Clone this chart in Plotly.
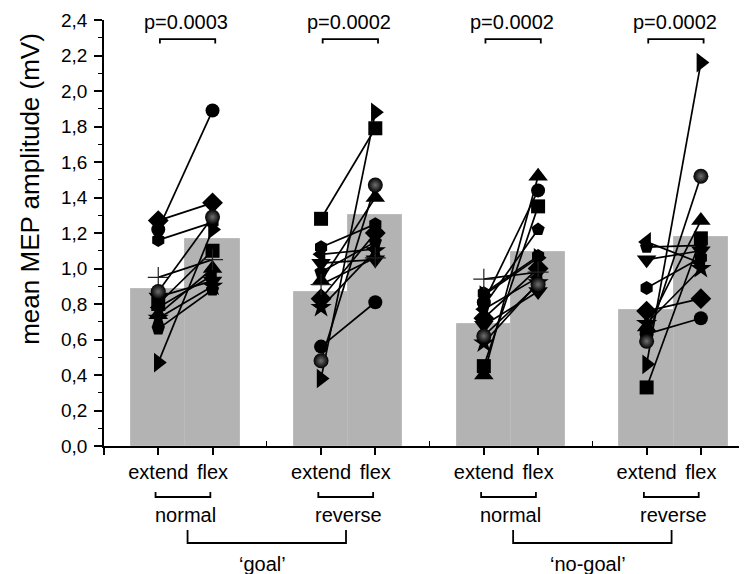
import plotly.graph_objs as go

# subjects: one marker symbol each, same symbol in every condition
symbols = ['square', 'circle', 'triangle-up', 'triangle-down', 'diamond', 'triangle-left',
           'triangle-right', 'hexagon', 'pentagon', 'star', 'cross-thin', 'sphere']

conditions = ['goal normal', 'goal reverse', 'no-goal normal', 'no-goal reverse']
movements = ['extend', 'flex']
sub_labels = ['normal', 'reverse', 'normal', 'reverse']
group_labels = ['\u2018goal\u2019', '\u2018no-goal\u2019']
p_values = ['p=0.0003', 'p=0.0002', 'p=0.0002', 'p=0.0002']

# bar heights (group means)
mean_extend = [0.885, 0.868, 0.687, 0.768]
mean_flex = [1.167, 1.300, 1.095, 1.178]

# single subjects, in the order of `symbols`
goal_normal_extend = [0.80, 1.22, 0.74, 0.84, 1.27, 0.78, 0.47, 1.16, 0.66, 0.72, 0.95, 0.87]
goal_normal_flex = [1.10, 1.89, 1.00, 0.93, 1.37, 0.96, 1.22, 1.26, 0.88, 0.90, 1.05, 1.29]
goal_reverse_extend = [1.28, 0.56, 0.93, 1.03, 0.83, 1.08, 0.38, 1.12, 0.98, 0.78, 0.91, 0.48]
goal_reverse_flex = [1.79, 0.81, 1.40, 1.05, 1.20, 1.11, 1.88, 1.25, 1.15, 1.10, 1.06, 1.47]
nogoal_normal_extend = [0.45, 0.81, 0.40, 0.68, 0.72, 0.77, 0.85, 0.86, 0.79, 0.58, 0.94, 0.62]
nogoal_normal_flex = [1.35, 1.44, 1.52, 0.87, 1.00, 0.95, 1.06, 1.07, 1.22, 0.92, 0.98, 0.91]
nogoal_reverse_extend = [0.33, 0.63, 0.67, 1.05, 0.76, 1.15, 0.46, 0.89, 1.12, 0.69, None, 0.59]
nogoal_reverse_flex = [1.17, 0.72, 1.27, 1.10, 0.83, 1.03, 2.16, 1.06, 1.13, 1.00, None, 1.52]

extend_vals = [goal_normal_extend, goal_reverse_extend, nogoal_normal_extend, nogoal_reverse_extend]
flex_vals = [goal_normal_flex, goal_reverse_flex, nogoal_normal_flex, nogoal_reverse_flex]

FONT = 'Arial, Liberation Sans, sans-serif'
x_ext = [3 * g + 1 for g in range(len(conditions))]
x_flx = [3 * g + 2 for g in range(len(conditions))]

fig = go.Figure()

bar_x, bar_y = [], []
for g in range(len(conditions)):
    bar_x += [x_ext[g], x_flx[g]]
    bar_y += [mean_extend[g], mean_flex[g]]
fig.add_trace(go.Bar(x=bar_x, y=bar_y, width=1.0,
                     marker=dict(color='#b3b3b3', line=dict(color='#bcbcbc', width=1)),
                     showlegend=False, hoverinfo='skip'))

for s, sym in enumerate(symbols):
    xs, ys = [], []
    for g in range(len(conditions)):
        e, f = extend_vals[g][s], flex_vals[g][s]
        if e is None:
            continue
        xs += [x_ext[g], x_flx[g], None]
        ys += [e, f, None]
    marker = dict(symbol=sym, size=14, color='black', line=dict(width=0))
    if sym == 'sphere':
        marker = dict(symbol='circle', size=15, color='black',
                      gradient=dict(type='radial', color='#707070'), line=dict(width=0))
    elif sym == 'cross-thin':
        marker = dict(symbol='cross-thin', size=15, color='#222222',
                      line=dict(width=1.2, color='#222222'))
    elif sym.startswith('triangle'):
        marker['size'] = 17
    elif sym in ('star', 'diamond'):
        marker['size'] = 16
    fig.add_trace(go.Scatter(x=xs, y=ys, mode='lines+markers',
                             line=dict(color='black', width=1.7),
                             marker=marker, showlegend=False, connectgaps=False))

tickvals = [0]
ticktext = ['']
for g in range(len(conditions)):
    tickvals += [x_ext[g], x_flx[g]]
    ticktext += movements

yvals = [i * 0.2 for i in range(13)]
ytext = [('%.1f' % v).replace('.', ',') for v in yvals]

txt = dict(showarrow=False, xanchor='center', yanchor='middle')
shapes = []
annotations = []
for g in range(len(conditions)):
    # p-value brackets above
    shapes.append(dict(type='path', xref='x', yref='y',
                       path='M %f,2.268 L %f,2.292 L %f,2.292 L %f,2.268' % (
                           x_ext[g] + 0.03, x_ext[g] + 0.03, x_flx[g] + 0.05, x_flx[g] + 0.05),
                       line=dict(color='black', width=1.8)))
    annotations.append(dict(x=(x_ext[g] + x_flx[g]) / 2 + 0.02, y=2.387, xref='x', yref='y',
                            text=p_values[g], font=dict(size=20, color='black', family=FONT), **txt))
    # condition brackets below
    shapes.append(dict(type='path', xref='x', yref='paper',
                       path='M %f,-0.108 L %f,-0.1197 L %f,-0.1197 L %f,-0.108' % (
                           x_ext[g] - 0.05, x_ext[g] - 0.05, x_flx[g] - 0.04, x_flx[g] - 0.04),
                       line=dict(color='black', width=1.8)))
    annotations.append(dict(x=(x_ext[g] + x_flx[g]) / 2, y=-0.162, xref='x', yref='paper',
                            text=sub_labels[g], font=dict(size=20, color='black', family=FONT), **txt))

for k in range(len(group_labels)):
    a = (x_ext[2 * k] + x_flx[2 * k]) / 2
    b = (x_ext[2 * k + 1] + x_flx[2 * k + 1]) / 2
    shapes.append(dict(type='path', xref='x', yref='paper',
                       path='M %f,-0.197 L %f,-0.2277 L %f,-0.2277 L %f,-0.197' % (a + 0.04, a + 0.04, b - 0.04, b - 0.04),
                       line=dict(color='black', width=1.8)))
    annotations.append(dict(x=(a + b) / 2 - 0.08, y=-0.277, xref='x', yref='paper',
                            text=group_labels[k], font=dict(size=20, color='black', family=FONT), **txt))

annotations.append(dict(x=-0.1156, y=0.603, xref='paper', yref='paper',
                        text='mean MEP amplitude (mV)', textangle=-90,
                        font=dict(size=26, color='black', family=FONT), **txt))

# the page body keeps an 8px margin, so the figure is 8px smaller and shifted
fig.update_layout(width=739, height=566,
                  margin=dict(l=96, r=0, t=12, b=128, autoexpand=False),
                  paper_bgcolor='white', plot_bgcolor='white',
                  font=dict(family=FONT, color='black'),
                  bargap=0, showlegend=False,
                  shapes=shapes, annotations=annotations)

fig.update_xaxes(range=[0, 11.85], tickmode='array', tickvals=tickvals, ticktext=ticktext,
                 ticks='outside', ticklen=7, tickwidth=1.8, tickcolor='black',
                 showline=True, linecolor='black', linewidth=1.8,
                 showgrid=False, zeroline=False, automargin=False,
                 tickfont=dict(size=20, color='black', family=FONT),
                 minor=dict(tickmode='array', tickvals=[3, 6, 9], ticks='inside',
                            ticklen=5, tickwidth=1.4, tickcolor='black', showgrid=False))

fig.update_yaxes(range=[0, 2.4], tickmode='array', tickvals=yvals, ticktext=ytext,
                 ticks='outside', ticklen=8, tickwidth=1.8, tickcolor='black',
                 showline=True, linecolor='black', linewidth=1.8,
                 showgrid=False, zeroline=False, ticklabelstandoff=3, automargin=False,
                 tickfont=dict(size=19, color='black', family=FONT),
                 minor=dict(dtick=0.1, tick0=0, ticks='outside', ticklen=4,
                            tickwidth=1.4, tickcolor='black', showgrid=False))

fig.write_html("out.html")
